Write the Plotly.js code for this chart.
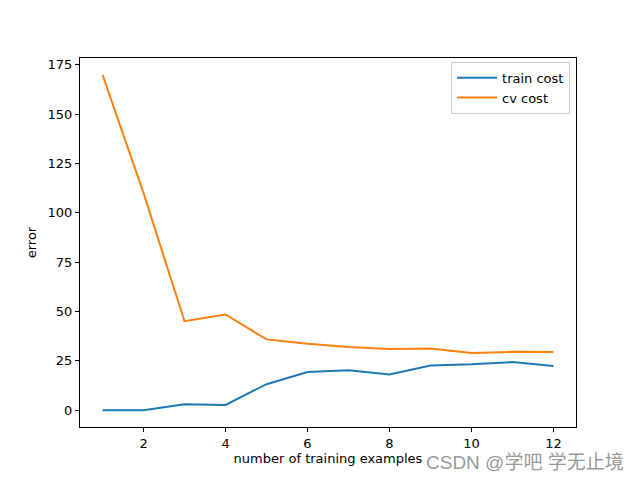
<!DOCTYPE html>
<html>
<head>
<meta charset="utf-8">
<script src="https://cdn.plot.ly/plotly-3.0.1.min.js"></script>
<style>
  html, body { margin: 0; padding: 0; background: #fff; }
  #chart { width: 640px; height: 480px; }
</style>
</head>
<body>
<div id="chart"></div>
<script>
// 学习曲线数据
const trainSizes = [1, 2, 3, 4, 5, 6, 7, 8, 9, 10, 11, 12];
const trainCost = [0, 0, 3.0, 2.7, 13.2, 19.4, 20.2, 18.1, 22.7, 23.3, 24.4, 22.4];
const cvCost = [170, 110, 45.1, 48.5, 35.9, 33.7, 32.0, 31.0, 31.3, 29.0, 29.6, 29.5];

const xTicks = [2, 4, 6, 8, 10, 12];
const yTicks = [0, 25, 50, 75, 100, 125, 150, 175];

const font = { family: "DejaVu Sans, sans-serif", size: 13, color: "#000" };

const traces = [
  {
    type: "scatter",
    mode: "lines",
    x: trainSizes,
    y: trainCost,
    name: "train cost",
    line: { color: "#1f77b4", width: 2 },
  },
  {
    type: "scatter",
    mode: "lines",
    x: trainSizes,
    y: cvCost,
    name: "cv cost",
    line: { color: "#ff7f0e", width: 2 },
  },
];

const axisCommon = {
  showgrid: false,
  zeroline: false,
  showline: true,
  mirror: true,
  linecolor: "#000",
  linewidth: 1,
  ticks: "outside",
  ticklen: 4,
  tickwidth: 1,
  tickcolor: "#000",
  tickfont: font,
};

const layout = {
  width: 640,
  height: 480,
  paper_bgcolor: "#fff",
  plot_bgcolor: "#fff",
  font: font,
  margin: { l: 80, r: 64, t: 58, b: 53 },
  showlegend: true,
  legend: {
    x: 0.988,
    y: 0.99,
    xanchor: "right",
    yanchor: "top",
    bgcolor: "rgba(255,255,255,0.8)",
    bordercolor: "#ccc",
    borderwidth: 1,
    itemwidth: 40,
    tracegroupgap: 0,
    font: font,
  },
  xaxis: Object.assign({}, axisCommon, {
    range: [0.45, 12.55],
    tickvals: xTicks,
    title: { text: "number of training examples", font: font, standoff: 4 },
  }),
  yaxis: Object.assign({}, axisCommon, {
    range: [-8.5, 178.5],
    tickvals: yTicks,
    title: { text: "error", font: font, standoff: 8 },
  }),
  annotations: [
    {
      xref: "paper",
      yref: "paper",
      x: 1.0,
      y: 0,
      xshift: 50,
      yshift: -48,
      xanchor: "right",
      yanchor: "bottom",
      text: "CSDN @学吧 学无止境",
      showarrow: false,
      font: { family: "Liberation Sans, Noto Sans CJK SC, sans-serif", size: 19, color: "#999" },
    },
  ],
};

Plotly.newPlot("chart", traces, layout, { displayModeBar: false, staticPlot: true });
</script>
</body>
</html>
